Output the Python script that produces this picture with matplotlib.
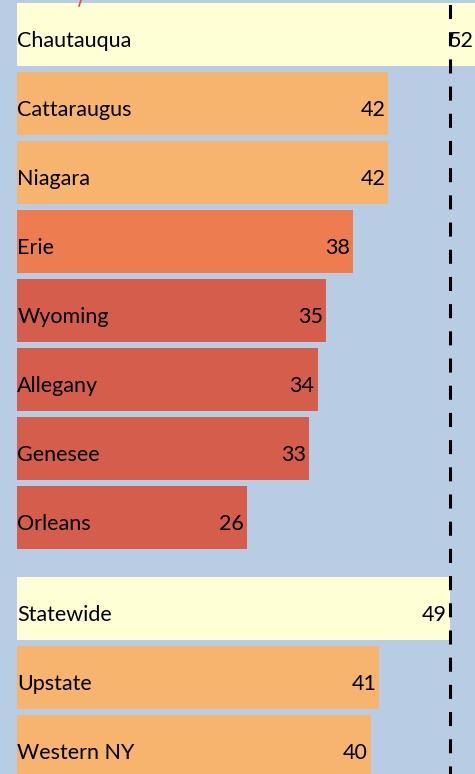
import matplotlib

matplotlib.use("Agg")
import matplotlib.pyplot as plt
from matplotlib.lines import Line2D

# counties, then the comparison regions shown below them
counties = ["Chautauqua", "Cattaraugus", "Niagara", "Erie", "Wyoming",
            "Allegany", "Genesee", "Orleans"]
county_values = [52, 42, 42, 38, 35, 34, 33, 26]
regions = ["Statewide", "Upstate", "Western NY"]
region_values = [49, 41, 40]
statewide_value = 49

BG = "#B8CCE4"
YELLOW = "#FFFFD5"
ORANGE = "#F6B46E"
CORAL = "#EE7C51"
RED = "#D45E4B"


def bar_color(v):
    if v >= 45:
        return YELLOW
    if v >= 40:
        return ORANGE
    if v >= 36:
        return CORAL
    return RED


plt.rcParams["font.family"] = ["Lato", "DejaVu Sans"]

fig = plt.figure(figsize=(4.75, 7.74), dpi=100, facecolor=BG)
ax = fig.add_axes([0, 0, 1, 1])
ax.set_facecolor(BG)

gap = 1.32
names = counties + regions
values = county_values + region_values
ypos = list(range(len(counties))) + [len(counties) - 1 + gap + j for j in range(len(regions))]

ax.barh(ypos, values, height=0.92, color=[bar_color(v) for v in values], zorder=2)

for y, name, v in zip(ypos, names, values):
    ax.text(0.0, y + 0.1, name, ha="left", va="center", fontsize=15.5, color="black", zorder=4)
    ax.text(v - 0.35, y + 0.1, f"{v}", ha="right", va="center", fontsize=15.5, color="black", zorder=4)

ax.axvline(statewide_value, color="black", lw=2.2, ls=(1.96, (4.6, 4.3)), zorder=3)

ax.set_xlim(-1.97, 51.82)
ax.set_ylim(10.72, -0.497)
ax.axis("off")

# stray red connector poking in from above the chart
fig.add_artist(Line2D([81 / 475, 79 / 475], [1.0, 1 - 6 / 774], transform=fig.transFigure,
                      color="#E0504A", lw=1.2))

fig.savefig("out.png", dpi=100, facecolor=BG)
